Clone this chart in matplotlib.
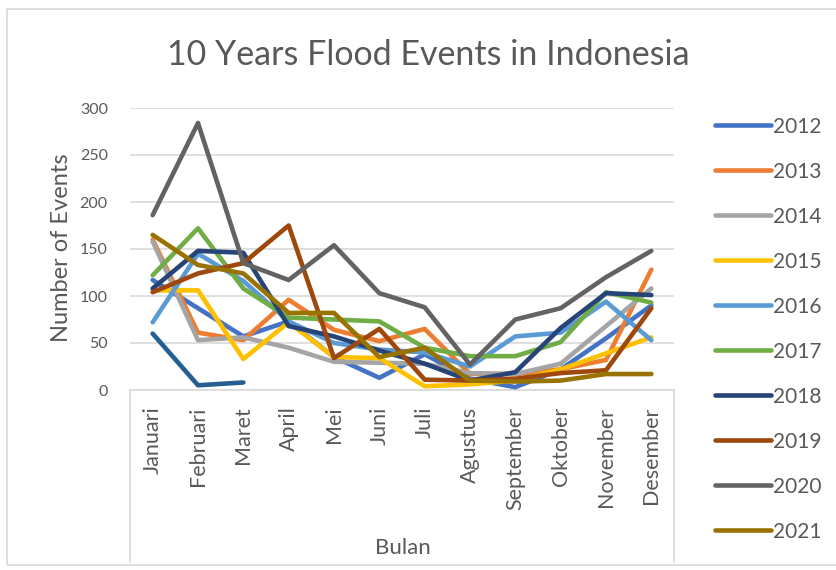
import matplotlib
matplotlib.use("Agg")
import matplotlib.pyplot as plt
from matplotlib.lines import Line2D
import numpy as np

months = ["Januari", "Februari", "Maret", "April", "Mei", "Juni", "Juli",
          "Agustus", "September", "Oktober", "November", "Desember"]

y2012 = [117, 87, 57, 73, 35, 13, 38, 12, 3, 22, 55, 90]
y2013 = [160, 61, 53, 96, 64, 52, 65, 17, 17, 22, 32, 128]
y2014 = [158, 53, 56, 45, 30, 29, 28, 18, 17, 28, 68, 108]
y2015 = [106, 106, 33, 72, 35, 34, 4, 6, 10, 22, 39, 56]
y2016 = [72, 145, 116, 73, 50, 43, 40, 25, 57, 61, 94, 53]
y2017 = [122, 172, 108, 77, 75, 73, 45, 36, 36, 51, 104, 93]
y2018 = [108, 148, 146, 68, 57, 42, 28, 10, 19, 66, 103, 101]
y2019 = [104, 124, 135, 175, 34, 65, 11, 10, 12, 18, 21, 87]
y2020 = [186, 284, 135, 117, 154, 103, 88, 27, 75, 87, 120, 148]
y2021 = [165, 133, 124, 82, 82, 35, 45, 10, 9, 10, 17, 17]
y2022 = [60, 5, 8]

years = ["2012", "2013", "2014", "2015", "2016", "2017", "2018", "2019", "2020", "2021", "2022"]
series = [y2012, y2013, y2014, y2015, y2016, y2017, y2018, y2019, y2020, y2021, y2022]
colors = ["#4472C4", "#ED7D31", "#A5A5A5", "#FFC000", "#5B9BD5", "#70AD47",
          "#264478", "#9E480E", "#636363", "#997300", "#255E91"]
yticks = [0, 50, 100, 150, 200, 250, 300]

FONT = "Lato"
TXT = "#595959"
GRID = "#D9D9D9"
W, H = 837, 570

fig = plt.figure(figsize=(W / 100, H / 100), dpi=100)

def fx(px):
    return px / W

def fy(py):
    return 1 - py / H

# outer chart border
fig.add_artist(plt.Rectangle((fx(7), fy(565)), fx(840) - fx(7), fy(9) - fy(565),
                             transform=fig.transFigure, fill=False,
                             edgecolor=GRID, linewidth=1.2))

left, right, top, bottom = 130, 674, 108, 390
ax = fig.add_axes([fx(left), fy(bottom), fx(right) - fx(left), fy(top) - fy(bottom)])

x = np.arange(len(months))
lw = 3.3
for yr, vals, c in zip(years, series, colors):
    lab = yr if yr != "2022" else "_nolegend_"
    ax.plot(x[:len(vals)], vals, color=c, linewidth=lw, label=lab,
            solid_capstyle="round", solid_joinstyle="round", zorder=3)

ax.set_xlim(-0.5, len(months) - 0.5)
ax.set_ylim(0, 300)
ax.set_yticks(yticks)
ax.set_yticklabels([str(v) for v in yticks], fontsize=11.5, color=TXT, family=FONT)
ax.set_xticks(x)
ax.set_xticklabels(months, rotation=90, fontsize=15.5, color=TXT, family=FONT)
ax.tick_params(axis="both", length=0)
ax.tick_params(axis="y", pad=16)
ax.tick_params(axis="x", pad=12)
ax.grid(axis="y", color=GRID, linewidth=1.2, zorder=0)
ax.set_axisbelow(True)
for s in ["top", "right", "left"]:
    ax.spines[s].set_visible(False)
ax.spines["bottom"].set_color(GRID)
ax.spines["bottom"].set_linewidth(1.2)

# category axis box sides
for px in (left, right):
    fig.add_artist(Line2D([fx(px), fx(px)], [fy(bottom), fy(562)],
                          transform=fig.transFigure, color=GRID, linewidth=1.2))

fig.text(fx(428), fy(55), "10 Years Flood Events in Indonesia", ha="center", va="center",
         fontsize=24.5, color=TXT, family=FONT)
fig.text(fx(62), fy(248), "Number of Events", ha="center", va="center", rotation=90,
         fontsize=17, color=TXT, family=FONT)
fig.text(fx(403), fy(548), "Bulan", ha="center", va="center",
         fontsize=16, color=TXT, family=FONT)

# legend
handles, labels = ax.get_legend_handles_labels()
leg = fig.legend(handles, labels, loc="upper left", bbox_to_anchor=(fx(696), fy(98)),
                 frameon=False, handlelength=2.7, handletextpad=0.1,
                 labelspacing=1.2, prop={"family": FONT, "size": 15})
for t in leg.get_texts():
    t.set_color(TXT)

fig.savefig("out.png", dpi=100)
